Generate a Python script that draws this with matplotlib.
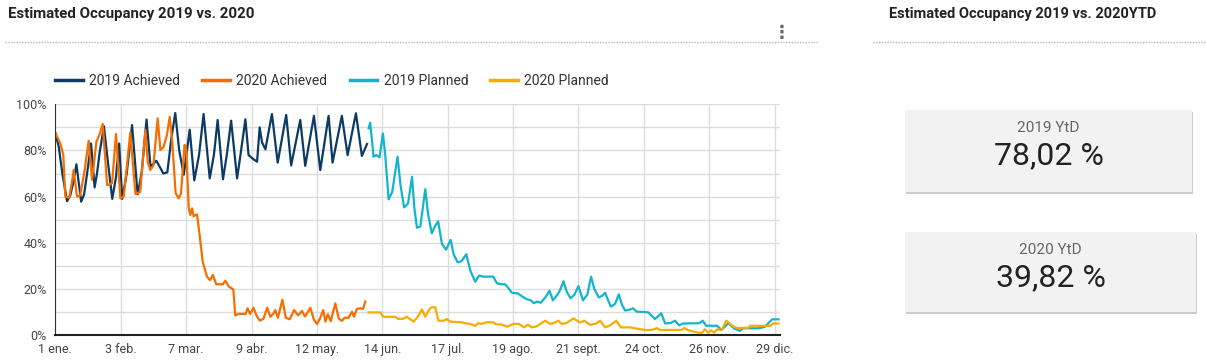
import matplotlib.pyplot as plt
from matplotlib.lines import Line2D
from matplotlib.patches import Rectangle

plt.rcParams['font.family'] = ['Roboto', 'DejaVu Sans']

# ---- data (day of year, occupancy %) ----
ach19_days = [0, 1.7, 3.5, 5.9, 7.5, 9, 10.6, 11.8, 13, 14.5, 16, 18, 19.8, 21, 22.4, 24.5, 26.5, 28.7,
              30.5, 32.2, 33.7, 36, 38.7, 41.5, 43.5, 46, 48, 51, 54.5, 56.5, 58.5, 60.5, 62.5, 64.8,
              67.8, 70.1, 72.5, 74.8, 77.9, 80, 81.9, 84.6, 86.5, 88.7, 91.7, 93.3, 95.9, 97.5, 99.5,
              101.8, 103.1, 104.3, 106, 109.3, 112.2, 116.5, 119, 123.6, 126.1, 130.5, 133.7, 137.9,
              139.9, 144.6, 147.5, 151.7, 154.7, 157.3]
ach19_vals = [87.4, 81.6, 70, 58, 60.5, 66, 74, 66, 57.8, 61, 70, 83, 64, 70, 79.5, 90.5, 75, 59,
              68, 83, 59, 70, 91, 61, 70, 93.4, 73, 75.5, 70, 70.5, 85, 96.2, 80, 69.5,
              89, 67, 78, 95.8, 67.9, 78, 93.2, 67.5, 78, 92.9, 67.9, 77.3, 93.5, 78, 76.5,
              75.1, 90, 83.5, 80.5, 95.8, 74.7, 95.4, 73.5, 93.2, 73.3, 95, 71.5, 95,
              74.7, 95, 78, 96.1, 77.6, 82.8]

ach20_days = [0, 2.5, 4, 5, 7, 8.3, 9.2, 10.9, 12.5, 14.5, 16.8, 18.5, 20.7, 22.3, 23.9, 26.1, 28.6,
              30.6, 32.8, 34.5, 37.8, 40.4, 42.8, 45.4, 46.6, 47.9, 49.5, 51.6, 53, 54.6, 56.3, 57.7,
              58.9, 60.7, 62.2, 63.4, 65.2, 66.1, 67.3, 68.1, 69, 69.8, 71.5, 72.8, 74.3, 76.5, 78,
              79.5, 81.2, 84.5, 85.8, 87.5, 89.8, 90.8, 92.5, 96, 97, 98.3, 100, 101.5, 103.2, 105,
              106.9, 108.5, 110, 111, 112.3, 114.6, 116.3, 118.3, 120.5, 122.5, 124.5, 126, 128.7,
              130.4, 132, 133.5, 135.2, 136.3, 137.5, 139, 141.3, 143, 144.6, 146, 148, 149.7, 150.7,
              152.2, 153.9, 155.3, 156.4]
ach20_vals = [87.5, 83, 78, 60, 59.5, 66, 71.5, 60, 60.5, 70, 84.2, 67.2, 83.8, 87, 91.5, 65, 65.8,
              87.1, 59.2, 60, 87.7, 61.1, 62, 88.9, 75.1, 71.5, 73.5, 93.9, 80.2, 81.5, 86.7, 94.6,
              84.5, 61.5, 59.2, 61.4, 82.4, 80.2, 55, 52, 54.9, 51.5, 52.3, 43.4, 32, 25.3, 23.8,
              26, 22, 22, 23.5, 21, 19.8, 8.5, 9.2, 9.1, 11.6, 9.1, 11.8, 8.5, 6.2, 7,
              11.8, 7.9, 9.2, 10.8, 7.5, 15.3, 7.5, 6.8, 10.8, 8.5, 10.4, 8, 11.8,
              6.8, 4.8, 7, 10.8, 5.8, 9, 6, 13.7, 7.2, 6.1, 7.5, 7.5, 10.1, 7.9,
              11.3, 11.6, 11.3, 14.5]

plan19_days = [158.1, 158.9, 160.6, 162, 163.6, 165.3, 166.5, 168.2, 170, 172.7, 174.2, 176, 178, 180,
               181.2, 182.5, 184.2, 186.7, 188.2, 190, 191.5, 193.2, 195.1, 197.2, 199.5, 201, 203,
               205, 207.4, 209.4, 211.9, 213.8, 216, 219, 221, 222.9, 225, 227, 228.5, 230.4, 233.5,
               236, 238, 240, 241.5, 243, 245, 247.5, 249.4, 251.1, 253, 254.5, 256.5, 258, 260, 262,
               264, 266.3, 268.5, 270.4, 272, 274.3, 276, 277.5, 279, 280.4, 282.5, 284.4, 286, 287.6,
               290, 291.5, 293.5, 297, 299.3, 302.7, 305.8, 307.8, 310.5, 312.8, 314.8, 317, 325,
               326.7, 328.5, 334, 336.2, 339.7, 342.5, 345.6, 347, 355, 358, 361.8, 365]
plan19_vals = [89.6, 92, 77.3, 78, 77, 87.4, 78, 58.8, 62, 77.3, 65, 55.3, 57, 68.6,
               55, 46.5, 47, 63.2, 52, 44.1, 47, 49.3, 39.5, 37, 41.2, 35, 31.5,
               32, 35, 28, 23.1, 25.7, 25.3, 25.3, 25.3, 22.4, 22, 22, 20.5, 18.3, 18,
               16.5, 15.5, 15, 13.8, 14.5, 14, 16.5, 19.2, 15, 17, 19, 23.3, 19, 15.9, 17.5,
               21.2, 15, 17.5, 25.3, 20, 16.3, 17, 18.3, 15, 12.3, 13.5, 17.6, 13, 10.6,
               11, 11.6, 10.1, 10, 9.8, 6.9, 9.4, 5, 5.2, 6.2, 4.2, 5, 5.1,
               6.2, 4, 4, 2.2, 5.1, 2.9, 1.8, 2.9, 2.9, 3.5, 6.8, 6.8]

plan20_days = [158.1, 164, 165.5, 171.5, 172.9, 175.5, 177.4, 180.8, 183, 185, 186.7, 189, 190, 191.7,
               193.4, 196, 197.6, 199.3, 205, 210, 211.9, 213.5, 215, 217.5, 221, 222.5, 225, 228,
               231.2, 234, 236.6, 238.5, 240.5, 243, 247.2, 249.7, 251.5, 253.9, 255.5, 258, 261.5,
               264.8, 267, 269.8, 273, 275, 277.5, 280, 283.1, 285.5, 290, 295, 297.7, 300, 302,
               303.5, 305, 316, 317.5, 319, 324.5, 326.5, 327.8, 329.5, 331, 332.5, 334, 336.4,
               338.6, 342, 344.5, 350, 350.7, 358, 361, 362.1, 365]
plan20_vals = [9.8, 9.8, 7.9, 7.9, 7, 7, 7.9, 5.8, 8, 11.1, 7.9, 11.5, 12, 12,
               6.2, 6.2, 6.9, 5.8, 5.5, 4.6, 3.9, 5.2, 4.8, 5.5, 5.5, 4.6, 4.6, 3.6,
               4.8, 4.8, 3.3, 4.5, 3.3, 3.8, 6.2, 4.8, 5.2, 6.2, 4.8, 5.2, 7.2,
               5.4, 6.2, 4.4, 5, 6.2, 3.3, 4.2, 6.2, 3.3, 3.3, 2.5, 2.2, 2.2, 2.4,
               3, 2.2, 2.2, 3, 2.2, 1, 1, 2.5, 1, 2, 1, 2.4, 2.2,
               6.2, 3.8, 3, 3.2, 4, 4, 4, 5, 5]

tick_days = [0, 33, 66, 99, 132, 165, 198, 231, 264, 297, 330, 363]
tick_labels = ['1 ene.', '3 feb.', '7 mar.', '9 abr.', '12 may.', '14 jun.', '17 jul.',
               '19 ago.', '21 sept.', '24 oct.', '26 nov.', '29 dic.']

kpi_labels = ['2019 YtD', '2020 YtD']
kpi_values = ['78,02 %', '39,82 %']

series = [
    ('2019 Achieved', ach19_days, ach19_vals, '#0b3a65'),
    ('2020 Achieved', ach20_days, ach20_vals, '#f66d00'),
    ('2019 Planned', plan19_days, plan19_vals, '#12b5cb'),
    ('2020 Planned', plan20_days, plan20_vals, '#f9ab00'),
]

W, H = 1207, 363
fig = plt.figure(figsize=(W / 100, H / 100), dpi=100)

ax = fig.add_axes([55 / W, 1 - 335 / H, 724.5 / W, (335 - 104.3) / H])
for name, d, v, c in series:
    ax.plot(d, v, color=c, lw=1.6, label=name, solid_joinstyle='round')

ax.set_xlim(-0.2, 365.5)
ax.set_ylim(0, 100)
ax.set_xticks(tick_days)
ax.set_xticklabels(tick_labels)
ax.set_yticks(range(0, 101, 20))
ax.set_yticklabels([f'{t}%' for t in range(0, 101, 20)])
ax.set_yticks(range(10, 100, 20), minor=True)
ax.grid(True, which='both', color='#dcdcdc', lw=1)
ax.set_axisbelow(True)
ax.tick_params(which='both', length=0, labelsize=9, colors='#444444', pad=6)
for s in ['top', 'right']:
    ax.spines[s].set_visible(False)
ax.spines['left'].set_color('#333333')
ax.spines['bottom'].set_color('#222222')
ax.spines['bottom'].set_linewidth(1.5)

leg = ax.legend(loc='center left', bbox_to_anchor=(55 / W, 1 - 81 / H),
                bbox_transform=fig.transFigure, ncol=4, frameon=False, fontsize=10,
                handlelength=2.0, handletextpad=0.45, columnspacing=1.6,
                borderpad=0, borderaxespad=0)
for t in leg.get_texts():
    t.set_color('#333333')
for h in leg.get_lines():
    h.set_linewidth(2.5)

# ---- header texts and separators ----
fig.text(8 / W, 1 - 14 / H, 'Estimated Occupancy 2019 vs. 2020', fontsize=10.8,
         fontweight='bold', color='#222222', va='center', ha='left')
fig.text(889 / W, 1 - 14 / H, 'Estimated Occupancy 2019 vs. 2020YTD', fontsize=10.5,
         fontweight='bold', color='#222222', va='center', ha='left')
fig.text(782 / W, 1 - 33 / H, '\u22ee', fontsize=13, fontweight='bold', color='#666666',
         va='center', ha='center', family='DejaVu Sans')
fig.add_artist(Line2D([5 / W, 818 / W], [1 - 42 / H] * 2, transform=fig.transFigure,
                      color='#b5b5b5', lw=1, ls=(0, (1, 1))))
fig.add_artist(Line2D([873 / W, 1.0], [1 - 42 / H] * 2, transform=fig.transFigure,
                      color='#b5b5b5', lw=1, ls=(0, (1, 1))))

# ---- KPI cards ----
boxes = [(905, 110, 287, 82), (905, 232, 291, 80)]
for (bx, by, bw, bh), lab, val in zip(boxes, kpi_labels, kpi_values):
    # soft shadow under the card
    fig.add_artist(Rectangle(((bx + 1) / W, 1 - (by + bh + 2) / H), bw / W, bh / H,
                             transform=fig.transFigure, facecolor='#9a9a9a', edgecolor='none',
                             alpha=0.5))
    fig.add_artist(Rectangle((bx / W, 1 - (by + bh) / H), bw / W, bh / H,
                             transform=fig.transFigure, facecolor='#f2f2f2', edgecolor='none'))
    cx = (bx + bw / 2) / W
    fig.text(cx, 1 - (by + 18) / H, lab, fontsize=11, color='#666666', ha='center', va='center')
    fig.text(cx, 1 - (by + 46) / H, val, fontsize=23, color='#222222', ha='center', va='center')

fig.savefig('out.png', dpi=100)
